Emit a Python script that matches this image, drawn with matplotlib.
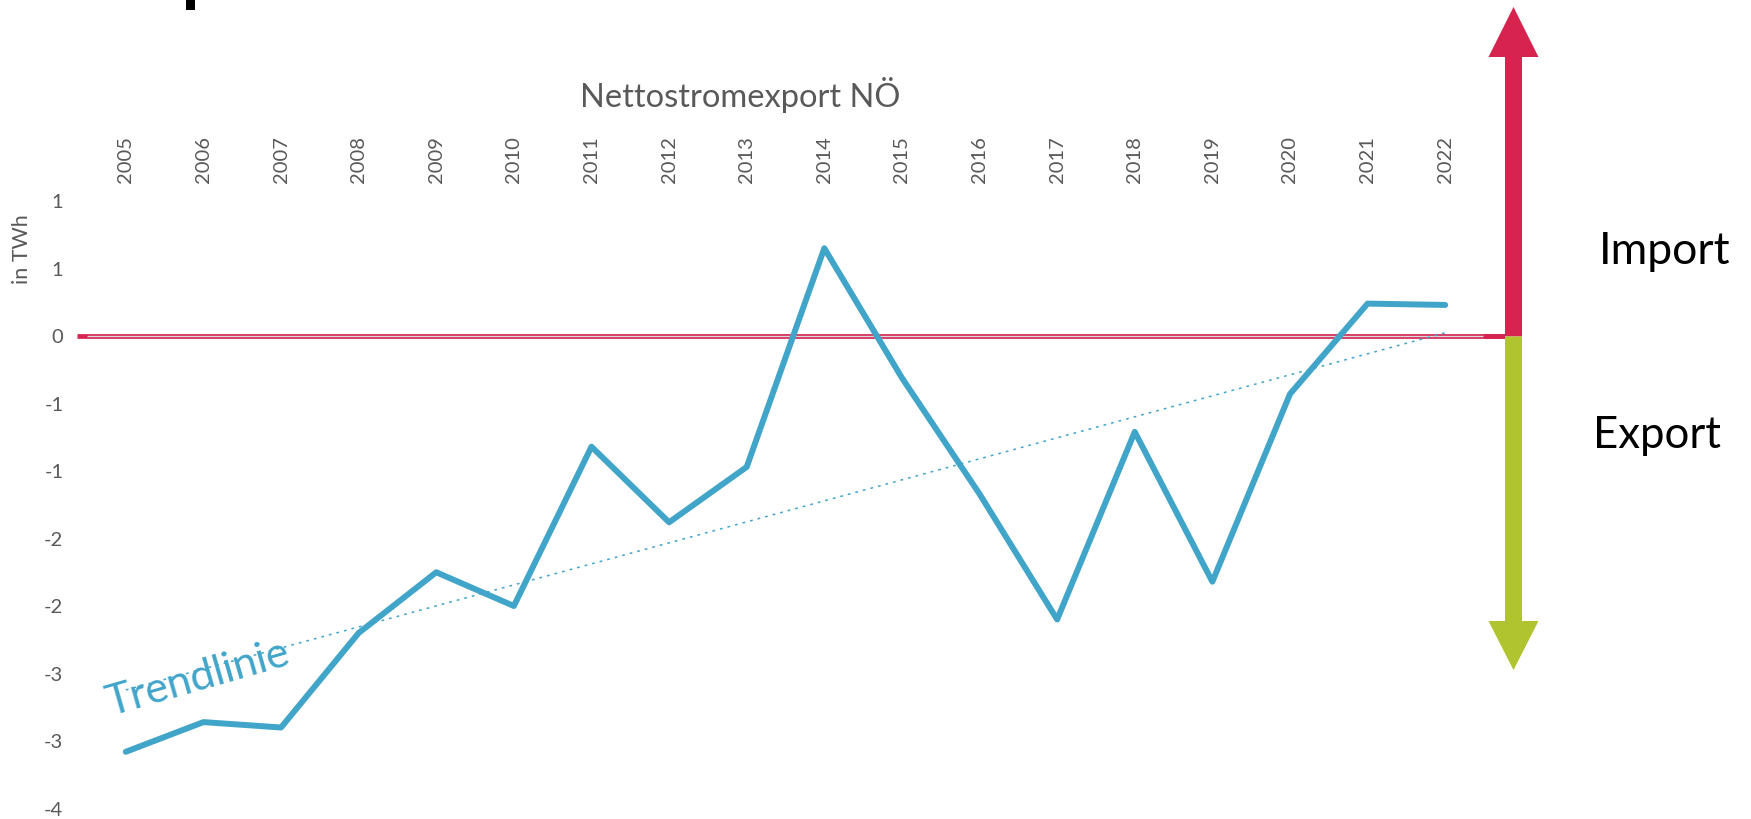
import matplotlib
matplotlib.use("Agg")
import matplotlib.pyplot as plt
import numpy as np
from matplotlib.patches import Polygon, Rectangle

# Net electricity export of Lower Austria (TWh, negative = export)
YEARS = [2005, 2006, 2007, 2008, 2009, 2010, 2011, 2012, 2013,
         2014, 2015, 2016, 2017, 2018, 2019, 2020, 2021, 2022]
NET = [-3.08, -2.86, -2.90, -2.20, -1.75, -2.00, -0.82, -1.38, -0.97,
       0.65, -0.31, -1.17, -2.10, -0.71, -1.82, -0.43, 0.24, 0.23]
YTICKS = [-3.5, -3.0, -2.5, -2.0, -1.5, -1.0, -0.5, 0.0, 0.5, 1.0]
YTICK_LABELS = ["-4", "-3", "-3", "-2", "-2", "-1", "-1", "0", "1", "1"]

BLUE = "#41A5C9"; RED = "#D7234F"; GREEN = "#AFC42F"; GREY = "#595959"
W, H = 1751, 819
FONT = "Lato"

fig = plt.figure(figsize=(W / 100, H / 100), dpi=100)
ax = fig.add_axes([87 / W, 1 - 808.5 / H, (1484 - 87) / W, (808.5 - 201) / H])
ax.set_xlim(2004.5, 2022.5)
ax.set_ylim(-3.5, 1.0)
for s in ax.spines.values():
    s.set_visible(False)

# zero line: red band with a light core
ax.plot([-0.007, 1.0], [0, 0], color=RED, lw=3.4, solid_capstyle="butt",
        transform=ax.get_yaxis_transform(), clip_on=False, zorder=2)
ax.plot([0.0, 0.999], [0.003, 0.003], color="#DADADA", lw=1.0, solid_capstyle="butt",
        transform=ax.get_yaxis_transform(), clip_on=False, zorder=2)

# trend line (linear fit) and data
k, d = np.polyfit(YEARS, NET, 1)
tx = np.array([YEARS[0], YEARS[-1]])
ax.plot(tx, k * tx + d, color=BLUE, lw=1.1, linestyle=(0, (1.8, 3.3)),
        dash_capstyle="butt", zorder=3)
ax.plot(YEARS, NET, color=BLUE, lw=4.3, solid_capstyle="round",
        solid_joinstyle="round", zorder=4)

ax.set_xticks(YEARS)
ax.set_xticklabels([str(y) for y in YEARS], rotation=90, family=FONT,
                   fontsize=14.5, color=GREY)
ax.xaxis.tick_top()
ax.tick_params(axis="x", length=0, pad=13)
ax.set_yticks(YTICKS)
ax.set_yticklabels(YTICK_LABELS, family=FONT, fontsize=14.5, color=GREY)
ax.tick_params(axis="y", length=0, pad=17)

fig.text(740 / W, 1 - 95 / H, "Nettostromexport NÖ", ha="center", va="center",
         family=FONT, fontsize=23.5, color=GREY)
fig.text(22 / W, 1 - 249 / H, "in TWh", ha="center", va="center", rotation=90,
         family=FONT, fontsize=15.5, color=GREY)
fig.text(198 / W, 1 - 678 / H, "Trendlinie", ha="center", va="center", rotation=16,
         family=FONT, fontsize=31, color=BLUE)
fig.text(1665 / W, 1 - 251 / H, "Import", ha="center", va="center",
         family=FONT, fontsize=32, color="black")
fig.text(1657 / W, 1 - 435 / H, "Export", ha="center", va="center",
         family=FONT, fontsize=31.5, color="black")


def px(x, y):
    return (x / W, 1 - y / H)


# import/export arrow
zero_y, cx = 336.5, 1513.5
fig.add_artist(Rectangle(px(1484, zero_y + 2.3), 21 / W, 4.6 / H,
                         transform=fig.transFigure, color=RED, lw=0))
fig.add_artist(Polygon([px(cx - 8.5, zero_y), px(cx - 8.5, 57), px(cx - 25, 57),
                        px(cx, 7), px(cx + 25, 57), px(cx + 8.5, 57),
                        px(cx + 8.5, zero_y)],
                       closed=True, transform=fig.transFigure, color=RED, lw=0))
fig.add_artist(Polygon([px(cx - 8.5, zero_y), px(cx - 8.5, 621), px(cx - 25, 621),
                        px(cx, 670), px(cx + 25, 621), px(cx + 8.5, 621),
                        px(cx + 8.5, zero_y)],
                       closed=True, transform=fig.transFigure, color=GREEN, lw=0))

# leftover of the slide title, cut off at the top edge
fig.add_artist(Rectangle(px(186, 10), 9 / W, 10 / H, transform=fig.transFigure,
                         color="black", lw=0))

fig.savefig("out.png", dpi=100)
